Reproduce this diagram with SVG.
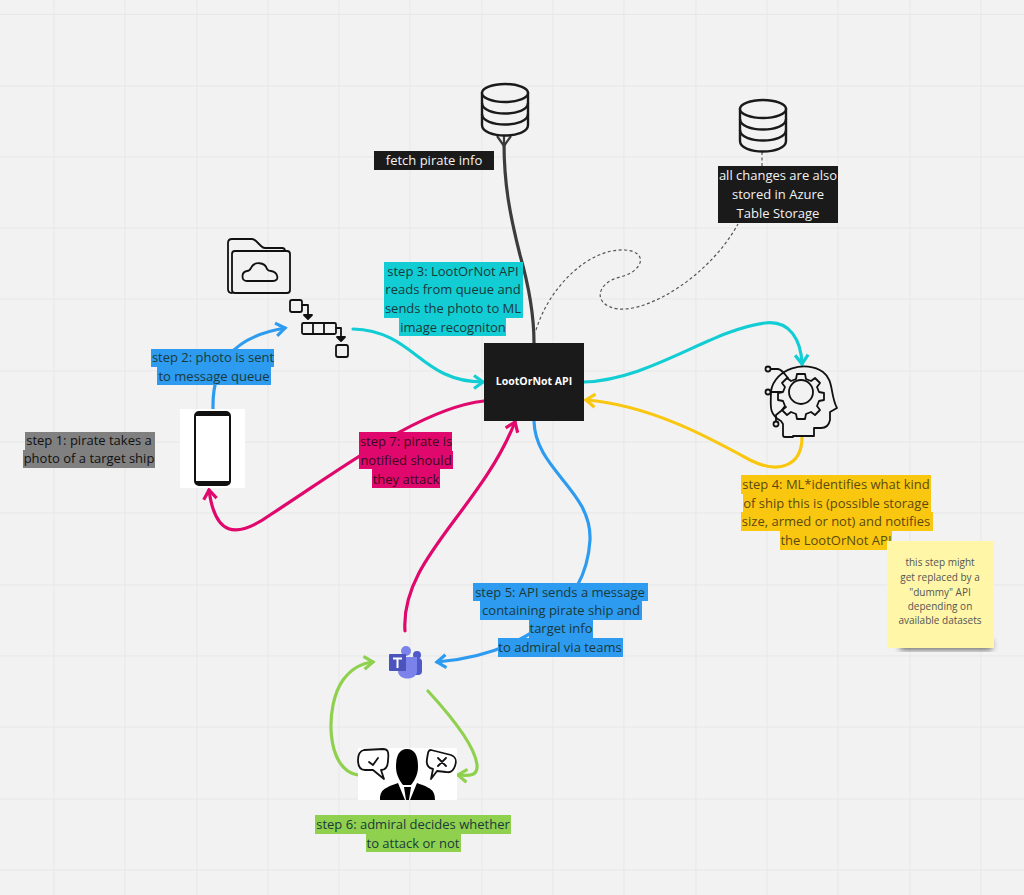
<svg xmlns="http://www.w3.org/2000/svg" width="1024" height="895" viewBox="0 0 1024 895">
<defs>
<marker id="aBlue" markerUnits="userSpaceOnUse" markerWidth="14" markerHeight="16" refX="11" refY="8" orient="auto"><path d="M2 1.5L11 8L2 14.5" fill="none" stroke="#2d9bf0" stroke-width="3.2"/></marker>
<marker id="aCyan" markerUnits="userSpaceOnUse" markerWidth="14" markerHeight="16" refX="11" refY="8" orient="auto"><path d="M2 1.5L11 8L2 14.5" fill="none" stroke="#12cdd4" stroke-width="3.2"/></marker>
<marker id="aYellow" markerUnits="userSpaceOnUse" markerWidth="14" markerHeight="16" refX="11" refY="8" orient="auto"><path d="M2 1.5L11 8L2 14.5" fill="none" stroke="#fac710" stroke-width="3.2"/></marker>
<marker id="aPink" markerUnits="userSpaceOnUse" markerWidth="14" markerHeight="16" refX="11" refY="8" orient="auto"><path d="M2 1.5L11 8L2 14.5" fill="none" stroke="#e0086c" stroke-width="3.2"/></marker>
<marker id="aGreen" markerUnits="userSpaceOnUse" markerWidth="14" markerHeight="16" refX="11" refY="8" orient="auto"><path d="M2 1.5L11 8L2 14.5" fill="none" stroke="#8fd14f" stroke-width="3.2"/></marker>
<filter id="sh" x="-20%" y="-20%" width="140%" height="140%"><feGaussianBlur stdDeviation="3"/></filter>
</defs>
<style>
text{font-family:"Open Sans","DejaVu Sans",sans-serif;font-size:13px;text-anchor:middle;fill:#1a3a3a}
.grid{stroke:#e7e7e7;stroke-width:1}
.c{fill:none;stroke-width:3.2;stroke-linecap:round}
.ic{fill:none;stroke:#111;stroke-width:1.8;stroke-linejoin:round;stroke-linecap:round}
.db{fill:#f2f2f2;stroke:#1a1a1a;stroke-width:2.4}
.w{fill:#f4f4f4}
</style>
<rect width="1024" height="895" fill="#f2f2f2"/>
<g id="grid" class="grid">
<path d="M54 0V895M125 0V895M197 0V895M268 0V895M339 0V895M410 0V895M482 0V895M553 0V895M624 0V895M696 0V895M767 0V895M838 0V895M910 0V895M981 0V895"/>
<path d="M0 14.500H1024M0 86H1024M0 157H1024M0 228H1024M0 299H1024M0 371H1024M0 442H1024M0 513H1024M0 585H1024M0 656H1024M0 727H1024M0 799H1024M0 870H1024"/>
</g>
<g id="connectors">
<path class="c" stroke="#2d9bf0" d="M213 409C212 365 232 337 285 328" marker-end="url(#aBlue)"/>
<path class="c" stroke="#12cdd4" d="M353 329C415 331 420 382 483 382" marker-end="url(#aCyan)"/>
<path d="M504 142C504 185 510 215 520 255C530 290 534 315 534 343" fill="none" stroke="#3c3c3c" stroke-width="3.200"/>
<path d="M497 136L504 146L511 136M504 136V146" fill="none" stroke="#3c3c3c" stroke-width="2.200"/>
<path d="M536 330C550 285 590 248 625 250C650 252 642 272 620 277C596 283 592 305 618 309C650 312 710 275 738 224" fill="none" stroke="#555" stroke-width="1.200" stroke-dasharray="3 2.500"/>
<path d="M762 152V166" fill="none" stroke="#555" stroke-width="1.200" stroke-dasharray="3 2.500"/>
<path class="c" stroke="#12cdd4" d="M584 382C650 380 710 330 765 323C790 320 801 340 802 364" marker-end="url(#aCyan)"/>
<path class="c" stroke="#fac710" d="M802 437C802 465 780 475 750 460C710 438 650 405 586 400" marker-end="url(#aYellow)"/>
<path class="c" stroke="#e0086c" d="M484 401C420 408 340 470 270 515C235 540 215 535 209 490" marker-end="url(#aPink)"/>
<path class="c" stroke="#e0086c" d="M405 631C400 560 480 510 515 422" marker-end="url(#aPink)"/>
<path class="c" stroke="#2d9bf0" d="M534 421C535 470 592 490 590 540C586 610 520 655 437 662" marker-end="url(#aBlue)"/>
<path class="c" stroke="#8fd14f" d="M358 775C325 770 325 705 343 680C352 668 362 663 373 662" marker-end="url(#aGreen)"/>
<path class="c" stroke="#8fd14f" d="M428 691C450 715 475 745 477 765C478 776 470 776 458 775" marker-end="url(#aGreen)"/>
</g>
<g id="api"><rect x="484" y="343" width="100" height="78" fill="#1a1a1a"/><text x="534" y="385" style="fill:#fff;font-weight:700;font-size:10.500px">LootOrNot API</text></g>
<g id="db1">
<path class="db" d="M482 92V125C482 139 528 139 528 125V92"/>
<ellipse class="db" cx="505" cy="93" rx="23" ry="9"/>
<path class="db" style="fill:none" d="M482 103C482 117 528 117 528 103M482 114C482 128 528 128 528 114"/>
</g>
<g id="db2">
<path class="db" d="M740 108V141C740 155 786 155 786 141V108"/>
<ellipse class="db" cx="763" cy="109" rx="23" ry="9"/>
<path class="db" style="fill:none" d="M740 119C740 133 786 133 786 119M740 130C740 144 786 144 786 130"/>
</g>
<g id="label-fetch"><rect x="374" y="151" width="120" height="19" fill="#1a1a1a"/><text x="434" y="165" style="fill:#f2f2f2">fetch pirate info</text></g>
<g id="label-storage"><rect x="718" y="166" width="120" height="19" fill="#1a1a1a"/><rect x="718" y="185" width="120" height="19" fill="#1a1a1a"/><rect x="718" y="204" width="120" height="19" fill="#1a1a1a"/>
<text x="778" y="180" style="fill:#f2f2f2">all changes are also</text><text x="778" y="199" style="fill:#f2f2f2">stored in Azure</text><text x="778" y="218" style="fill:#f2f2f2">Table Storage</text></g>
<g id="folder" class="ic" stroke-width="2">
<path d="M232 293C229 293 228 291 228 289V243C228 240 229 239 232 239H252C254 239 255 240 256 241L261 246C262 247 263 248 265 248H282C284 248 285 249 285 251"/>
<rect x="232" y="251" width="58" height="42" rx="3"/>
<path d="M247 281C241 281 241 272 247 271C249 271 250 270 251 268C254 261 265 262 267 269C268 271 269 271 271 271C278 272 280 281 273 281Z"/>
</g>
<g id="queue" class="ic">
<rect x="290" y="300" width="12" height="12" rx="2"/>
<path d="M302 305H308V316"/><path d="M304 315H312L308 319Z" fill="#111"/>
<rect x="302" y="323" width="34" height="11" rx="1.500"/>
<path d="M313 323V334M324 323V334M336 328H341V338"/><path d="M337 337H345L341 341Z" fill="#111"/>
<rect x="336" y="345" width="12" height="12" rx="2"/>
</g>
<g id="phone">
<rect x="180" y="409" width="65" height="79" fill="#fff"/>
<rect x="195" y="412" width="35" height="73" rx="4" fill="#fff" stroke="#111" stroke-width="2"/>
<path d="M195 416C195 413 197 412 199 412H226C228 412 230 413 230 416H195ZM195 481H230C230 484 228 485 226 485H199C197 485 195 484 195 481Z" fill="#111"/>
</g>
<g id="ml" class="ic">
<path d="M793 437H785C784 437 783 436 783 435V424L781 421C768 414 771 405 771 391C775 368 806 360 823 372C834 380 830 395 837 408L830 412V420C829 425 826 428 821 428H814V436H793"/>
<circle cx="801" cy="392" r="12"/>
<path d="M797 374H805L806 379L811 381L815 378L820 383L817 387L819 392L824 393V400L819 401L817 406L820 410L815 415L811 412L806 414L805 419H797L796 414L791 412L787 415L782 410L785 406L783 401L778 400V393L783 392L785 387L782 383L787 378L791 381L796 379Z"/>
<circle cx="768" cy="369" r="2.500"/><path d="M771 369H778C783 370 785 375 788 378"/>
<circle cx="768" cy="392" r="2.500"/><path d="M771 392H782"/>
<circle cx="776" cy="424" r="2.500"/><path d="M776 421V415L786 407"/>
</g>
<g id="teams">
<circle cx="417" cy="655" r="4" fill="#5059c9"/><rect x="409" y="658" width="13" height="17" rx="4" fill="#5059c9"/>
<circle cx="406" cy="651" r="5" fill="#7b83eb"/><path d="M398 657H417V671C417 681 398 681 398 671Z" fill="#7b83eb"/>
<rect x="389" y="654" width="17" height="17" rx="1" fill="#4b53bc"/><path d="M393 657.500H402V659.500H398.500V668H396.500V659.500H393Z" fill="#fff"/>
</g>
<g id="admiral">
<rect x="358" y="748" width="99" height="52" fill="#fff"/>
<path d="M407 749C398 749 396 758 396 767C396 775 400 781 403 785H411C414 781 418 775 418 767C418 758 416 749 407 749Z" fill="#000"/>
<path d="M380 800C380 790 384 788 398 783L405 800ZM435 800C435 790 431 788 417 783L410 800ZM404 787H411L409 800H406Z" fill="#000"/>
<path class="ic" stroke-width="2" d="M364 750L383 749C388 749 389 752 388 760C388 768 385 770 381 770L384 779L373 770H365C360 770 358 767 358 760C358 754 360 751 364 750Z"/>
<path class="ic" stroke-width="2.500" d="M369 762L373 765L378 758"/>
<path class="ic" stroke-width="2" d="M431 750L451 755C456 757 457 760 455 766C453 772 450 773 446 772L437 771L431 779L433 769C428 768 426 765 427 759C428 753 428 750 431 750Z"/>
<path class="ic" stroke-width="2.500" d="M438 758L446 766M446 758L438 766"/>
</g>
<g id="step1"><rect x="25" y="432" width="130" height="18" fill="#808080"/><rect x="23" y="450" width="132" height="18" fill="#808080"/>
<text x="89" y="445" style="fill:#111">step 1: pirate takes a</text><text x="89" y="463" style="fill:#111">photo of a target ship</text></g>
<g id="step2"><rect x="151" y="349" width="123" height="18" fill="#2d9bf0"/><rect x="157" y="367" width="114" height="18" fill="#2d9bf0"/>
<text x="213" y="362">step 2: photo is sent</text><text x="214" y="381">to message queue</text></g>
<g id="step3"><rect x="384" y="262" width="139" height="19" fill="#12cdd4"/><rect x="384" y="281" width="139" height="19" fill="#12cdd4"/><rect x="384" y="300" width="139" height="18" fill="#12cdd4"/><rect x="399" y="318" width="107" height="18" fill="#12cdd4"/>
<text x="453" y="276">step 3:  LootOrNot API</text><text x="453" y="294">reads from queue and</text><text x="453" y="313">sends the photo to ML</text><text x="453" y="332">image recogniton</text></g>
<g id="step4"><rect x="741" y="475" width="190" height="19" fill="#fac710"/><rect x="743" y="494" width="188" height="18" fill="#fac710"/><rect x="741" y="512" width="192" height="19" fill="#fac710"/><rect x="780" y="531" width="112" height="19" fill="#fac710"/>
<text x="836" y="489" style="fill:#5a4a10">step 4: ML*identifies what kind</text><text x="836" y="508" style="fill:#5a4a10">of ship this is (possible storage</text><text x="836" y="526" style="fill:#5a4a10">size, armed or not) and notifies</text><text x="836" y="545" style="fill:#5a4a10">the LootOrNot API</text></g>
<g id="sticky"><rect x="900" y="640" width="92" height="10" fill="#333" opacity=".7" filter="url(#sh)"/><rect x="887" y="541" width="107" height="107" fill="#fff6a8"/>
<g style="font-size:10px"><text x="940" y="566" style="font-size:10px;fill:#555">this step might</text><text x="940" y="581" style="font-size:10px;fill:#555">get replaced by a</text><text x="940" y="596" style="font-size:10px;fill:#555">"dummy" API</text><text x="940" y="610" style="font-size:10px;fill:#555">depending on</text><text x="940" y="624" style="font-size:10px;fill:#555">available datasets</text></g></g>
<g id="step5"><rect x="473" y="583" width="175" height="18" fill="#2d9bf0"/><rect x="480" y="601" width="162" height="19" fill="#2d9bf0"/><rect x="529" y="620" width="64" height="18" fill="#2d9bf0"/><rect x="498" y="638" width="125" height="19" fill="#2d9bf0"/>
<text x="560" y="597">step 5:  API sends a message</text><text x="561" y="615">containing pirate ship and</text><text x="561" y="633">target info</text><text x="560" y="652">to admiral via teams</text></g>
<g id="step6"><rect x="315" y="815" width="196" height="19" fill="#8fd14f"/><rect x="366" y="834" width="95" height="18" fill="#8fd14f"/>
<text x="413" y="829">step 6: admiral decides whether</text><text x="413" y="848">to attack or not</text></g>
<g id="step7"><rect x="359" y="432" width="93" height="19" fill="#e0086c"/><rect x="359" y="451" width="94" height="18" fill="#e0086c"/><rect x="372" y="469" width="68" height="19" fill="#e0086c"/>
<text x="406" y="446" style="fill:#3a0a20">step 7: pirate is</text><text x="406" y="465" style="fill:#3a0a20">notified should</text><text x="406" y="484" style="fill:#3a0a20">they attack</text></g>
</svg>
